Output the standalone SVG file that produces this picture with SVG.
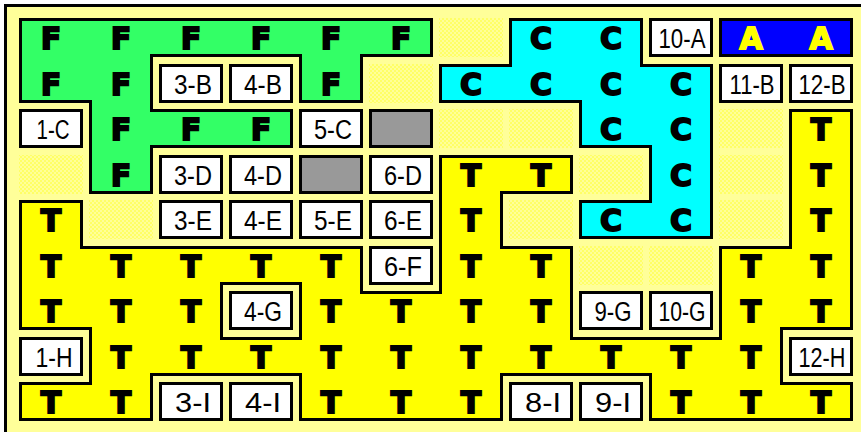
<svg xmlns="http://www.w3.org/2000/svg" xmlns:xlink="http://www.w3.org/1999/xlink" width="861" height="432" viewBox="0 0 861 432">
<style>
.box{fill:#fff;stroke:#000;stroke-width:3}
.gray{fill:#999;stroke:#000;stroke-width:3}
.lbl{font-family:"Liberation Sans",Arial,sans-serif;font-size:27px;text-anchor:middle;fill:#000}
.big{font-family:"DejaVu Sans",sans-serif;font-weight:bold;font-size:30px;text-anchor:middle;fill:#000;stroke:#000;stroke-width:1.8}
.ya{fill:#ff0;stroke:#ff0}
.dith{fill:url(#dith)}
.edge{stroke:#000;stroke-width:6}
</style>
<defs>
<pattern id="dith" width="4" height="4" patternUnits="userSpaceOnUse">
<rect width="4" height="4" fill="#ffff99"/>
<rect width="2" height="2" fill="#ffff66"/>
<rect x="2" y="2" width="2" height="2" fill="#ffff66"/>
</pattern>
<path id="pF" d="M19 18H433V57H363V103H299V57H153V109H293V148H153V194H89V103H19Z"/>
<path id="pC" d="M509 18H643V64H713V239H579V200H649V148H579V103H439V64H509Z"/>
<path id="pA" d="M719 18H853V57H719Z"/>
<path id="pT" fill-rule="evenodd" clip-rule="evenodd" d="M19 200H83V246H363V291H439V155H573V194H503V246H573V337H719V246H789V109H853V330H783V382H853V421H649V376H503V421H299V376H153V421H19V382H89V330H19Z M223 285H299V337H223Z"/>
<clipPath id="cF"><use xlink:href="#pF"/></clipPath>
<clipPath id="cC"><use xlink:href="#pC"/></clipPath>
<clipPath id="cA"><use xlink:href="#pA"/></clipPath>
<clipPath id="cT"><use xlink:href="#pT"/></clipPath>
</defs>

<rect width="861" height="432" fill="#fff"/>
<rect x="4" y="4" width="857" height="428" fill="#000"/>
<rect x="7" y="7" width="854" height="425" fill="#ffff99"/>

<g id="empty-cells">
<rect class="dith" x="439" y="18" width="64" height="39"/>
<rect class="dith" x="369" y="64" width="64" height="39"/>
<rect class="dith" x="439" y="109" width="64" height="39"/>
<rect class="dith" x="509" y="109" width="64" height="39"/>
<rect class="dith" x="719" y="109" width="64" height="39"/>
<rect class="dith" x="19" y="155" width="64" height="39"/>
<rect class="dith" x="579" y="155" width="64" height="39"/>
<rect class="dith" x="719" y="155" width="64" height="39"/>
<rect class="dith" x="89" y="200" width="64" height="39"/>
<rect class="dith" x="509" y="200" width="64" height="39"/>
<rect class="dith" x="719" y="200" width="64" height="39"/>
<rect class="dith" x="579" y="246" width="64" height="39"/>
<rect class="dith" x="649" y="246" width="64" height="39"/>
</g>

<g id="region-F">
<use xlink:href="#pF" fill="#33ff66" class="edge" clip-path="url(#cF)"/>
<g class="big">
<text x="51" y="49">F</text><text x="121" y="49">F</text><text x="191" y="49">F</text><text x="261" y="49">F</text><text x="331" y="49">F</text><text x="401" y="49">F</text>
<text x="51" y="95">F</text><text x="121" y="95">F</text><text x="331" y="95">F</text>
<text x="121" y="140">F</text><text x="191" y="140">F</text><text x="261" y="140">F</text>
<text x="121" y="186">F</text>
</g>
</g>

<g id="region-C">
<use xlink:href="#pC" fill="#00ffff" class="edge" clip-path="url(#cC)"/>
<g class="big">
<text x="541" y="49">C</text><text x="611" y="49">C</text>
<text x="471" y="95">C</text><text x="541" y="95">C</text><text x="611" y="95">C</text><text x="681" y="95">C</text>
<text x="611" y="140">C</text><text x="681" y="140">C</text>
<text x="681" y="186">C</text>
<text x="611" y="231">C</text><text x="681" y="231">C</text>
</g>
</g>

<g id="region-A">
<use xlink:href="#pA" fill="#0000ff" class="edge" clip-path="url(#cA)"/>
<g class="big ya">
<text x="751" y="49">A</text><text x="821" y="49">A</text>
</g>
</g>

<g id="region-T">
<use xlink:href="#pT" fill="#ffff00" class="edge" clip-path="url(#cT)"/>
<g class="big">
<text x="821" y="140">T</text>
<text x="471" y="186">T</text><text x="541" y="186">T</text><text x="821" y="186">T</text>
<text x="51" y="231">T</text><text x="471" y="231">T</text><text x="821" y="231">T</text>
<text x="51" y="277">T</text><text x="121" y="277">T</text><text x="191" y="277">T</text><text x="261" y="277">T</text><text x="331" y="277">T</text><text x="471" y="277">T</text><text x="541" y="277">T</text><text x="751" y="277">T</text><text x="821" y="277">T</text>
<text x="51" y="322">T</text><text x="121" y="322">T</text><text x="191" y="322">T</text><text x="331" y="322">T</text><text x="401" y="322">T</text><text x="471" y="322">T</text><text x="541" y="322">T</text><text x="751" y="322">T</text><text x="821" y="322">T</text>
<text x="121" y="368">T</text><text x="191" y="368">T</text><text x="261" y="368">T</text><text x="331" y="368">T</text><text x="401" y="368">T</text><text x="471" y="368">T</text><text x="541" y="368">T</text><text x="611" y="368">T</text><text x="681" y="368">T</text><text x="751" y="368">T</text>
<text x="51" y="413">T</text><text x="121" y="413">T</text><text x="331" y="413">T</text><text x="401" y="413">T</text><text x="471" y="413">T</text><text x="681" y="413">T</text><text x="751" y="413">T</text><text x="821" y="413">T</text>
</g>
</g>

<g id="box-10-A"><rect class="box" x="650.5" y="19.5" width="61" height="36"/><text class="lbl" x="682" y="48" textLength="47" lengthAdjust="spacingAndGlyphs">10-A</text></g>
<g id="box-3-B"><rect class="box" x="160.5" y="65.5" width="61" height="36"/><text class="lbl" x="193" y="94" textLength="38" lengthAdjust="spacingAndGlyphs">3-B</text></g>
<g id="box-4-B"><rect class="box" x="230.5" y="65.5" width="61" height="36"/><text class="lbl" x="263" y="94" textLength="38" lengthAdjust="spacingAndGlyphs">4-B</text></g>
<g id="box-11-B"><rect class="box" x="720.5" y="65.5" width="61" height="36"/><text class="lbl" x="752" y="94" textLength="45" lengthAdjust="spacingAndGlyphs">11-B</text></g>
<g id="box-12-B"><rect class="box" x="790.5" y="65.5" width="61" height="36"/><text class="lbl" x="822" y="94" textLength="47" lengthAdjust="spacingAndGlyphs">12-B</text></g>
<g id="box-1-C"><rect class="box" x="20.5" y="110.5" width="61" height="36"/><text class="lbl" x="53" y="139" textLength="33" lengthAdjust="spacingAndGlyphs">1-C</text></g>
<g id="box-5-C"><rect class="box" x="300.5" y="110.5" width="61" height="36"/><text class="lbl" x="333" y="139" textLength="38" lengthAdjust="spacingAndGlyphs">5-C</text></g>
<g id="box-6-C"><rect class="gray" x="370.5" y="110.5" width="61" height="36"/></g>
<g id="box-3-D"><rect class="box" x="160.5" y="156.5" width="61" height="36"/><text class="lbl" x="193" y="185" textLength="38" lengthAdjust="spacingAndGlyphs">3-D</text></g>
<g id="box-4-D"><rect class="box" x="230.5" y="156.5" width="61" height="36"/><text class="lbl" x="263" y="185" textLength="38" lengthAdjust="spacingAndGlyphs">4-D</text></g>
<g id="box-5-D"><rect class="gray" x="300.5" y="156.5" width="61" height="36"/></g>
<g id="box-6-D"><rect class="box" x="370.5" y="156.5" width="61" height="36"/><text class="lbl" x="403" y="185" textLength="38" lengthAdjust="spacingAndGlyphs">6-D</text></g>
<g id="box-3-E"><rect class="box" x="160.5" y="201.5" width="61" height="36"/><text class="lbl" x="193" y="230" textLength="38" lengthAdjust="spacingAndGlyphs">3-E</text></g>
<g id="box-4-E"><rect class="box" x="230.5" y="201.5" width="61" height="36"/><text class="lbl" x="263" y="230" textLength="38" lengthAdjust="spacingAndGlyphs">4-E</text></g>
<g id="box-5-E"><rect class="box" x="300.5" y="201.5" width="61" height="36"/><text class="lbl" x="333" y="230" textLength="38" lengthAdjust="spacingAndGlyphs">5-E</text></g>
<g id="box-6-E"><rect class="box" x="370.5" y="201.5" width="61" height="36"/><text class="lbl" x="403" y="230" textLength="38" lengthAdjust="spacingAndGlyphs">6-E</text></g>
<g id="box-6-F"><rect class="box" x="370.5" y="247.5" width="61" height="36"/><text class="lbl" x="403" y="276" textLength="38" lengthAdjust="spacingAndGlyphs">6-F</text></g>
<g id="box-4-G"><rect class="box" x="230.5" y="292.5" width="61" height="36"/><text class="lbl" x="263" y="321" textLength="38" lengthAdjust="spacingAndGlyphs">4-G</text></g>
<g id="box-9-G"><rect class="box" x="580.5" y="292.5" width="61" height="36"/><text class="lbl" x="613" y="321" textLength="37" lengthAdjust="spacingAndGlyphs">9-G</text></g>
<g id="box-10-G"><rect class="box" x="650.5" y="292.5" width="61" height="36"/><text class="lbl" x="682" y="321" textLength="47" lengthAdjust="spacingAndGlyphs">10-G</text></g>
<g id="box-1-H"><rect class="box" x="20.5" y="338.5" width="61" height="36"/><text class="lbl" x="54" y="367" textLength="37" lengthAdjust="spacingAndGlyphs">1-H</text></g>
<g id="box-12-H"><rect class="box" x="790.5" y="338.5" width="61" height="36"/><text class="lbl" x="822" y="367" textLength="47" lengthAdjust="spacingAndGlyphs">12-H</text></g>
<g id="box-3-I"><rect class="box" x="160.5" y="383.5" width="61" height="36"/><text class="lbl" x="193" y="412" textLength="36" lengthAdjust="spacingAndGlyphs">3-I</text></g>
<g id="box-4-I"><rect class="box" x="230.5" y="383.5" width="61" height="36"/><text class="lbl" x="263" y="412" textLength="36" lengthAdjust="spacingAndGlyphs">4-I</text></g>
<g id="box-8-I"><rect class="box" x="510.5" y="383.5" width="61" height="36"/><text class="lbl" x="543" y="412" textLength="36" lengthAdjust="spacingAndGlyphs">8-I</text></g>
<g id="box-9-I"><rect class="box" x="580.5" y="383.5" width="61" height="36"/><text class="lbl" x="613" y="412" textLength="36" lengthAdjust="spacingAndGlyphs">9-I</text></g>

<g id="connectors"/>
</svg>
